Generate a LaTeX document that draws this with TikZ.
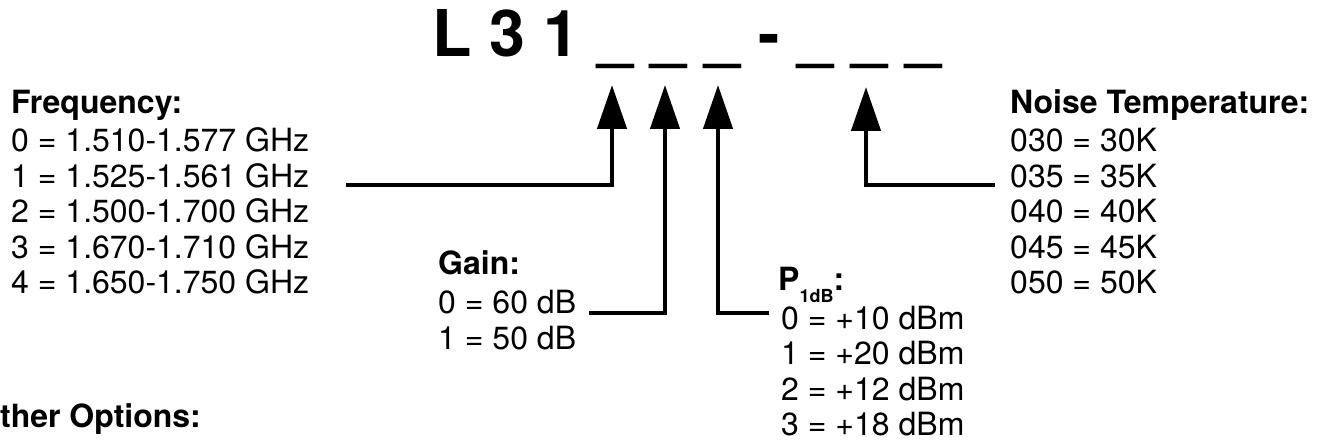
\documentclass[tikz,border=0pt]{standalone}
\usepackage{fontspec}
\setmainfont{TeX Gyre Heros}
\usetikzlibrary{arrows.meta}

\tikzset{
  code/.style={anchor=base west, inner sep=0pt, font=\bfseries\fontsize{64.5}{70}\selectfont},
  item/.style={anchor=base west, inner sep=0pt, font=\fontsize{32}{36}\selectfont},
  head/.style={item, font=\bfseries\fontsize{32}{36}\selectfont},
  pointer/.style={line width=4.5pt, -{Triangle[width=29pt,length=44pt]}}
}

\begin{document}
\begin{tikzpicture}[x=1pt,y=-1pt]
  \useasboundingbox (0,0) rectangle (1322,443);
  % part number and the digits the pointers aim at
  \node[code] (part) at (432,57) {L 3 1 \_ \_ \_ - \_ \_ \_};
  \coordinate (d1) at (612,85);
  \coordinate (d2) at (665,85);
  \coordinate (d3) at (718,85);
  \coordinate (d6) at (866,87);
  % frequency
  \node[head] (freq) at (11,114) {Frequency:};
  \node[item] (f0) at (11,152) {0 = 1.510-1.577 GHz};
  \node[item] (f1) at (11,187.5) {1 = 1.525-1.561 GHz};
  \node[item] (f2) at (11,223) {2 = 1.500-1.700 GHz};
  \node[item] (f3) at (11,258.5) {3 = 1.670-1.710 GHz};
  \node[item] (f4) at (11,294) {4 = 1.650-1.750 GHz};
  % gain
  \node[head] (gain) at (438,275) {Gain:};
  \node[item] (g0) at (438,314) {0 = 60 dB};
  \node[item] (g1) at (438,349.5) {1 = 50 dB};
  % compression point
  \node[head] (pdb) at (778,291) {P\raisebox{-0.36em}{\fontsize{18}{18}\selectfont 1dB}:};
  \node[item] (p0) at (781,330) {0 = +10 dBm};
  \node[item] (p1) at (781,365) {1 = +20 dBm};
  \node[item] (p2) at (781,400) {2 = +12 dBm};
  \node[item] (p3) at (781,435) {3 = +18 dBm};
  % noise temperature
  \node[head] (noise) at (1010,114) {Noise Temperature:};
  \node[item] (n0) at (1010,152) {030 = 30K};
  \node[item] (n1) at (1010,187.5) {035 = 35K};
  \node[item] (n2) at (1010,223) {040 = 40K};
  \node[item] (n3) at (1010,258.5) {045 = 45K};
  \node[item] (n4) at (1010,294) {050 = 50K};
  % other options
  \node[head] (other) at (-25,427) {Other Options:};
  % pointers
  \draw[pointer] ([xshift=37pt]f1.mid east) -| (d1);
  \draw[pointer] ([xshift=13pt,yshift=1pt]g0.base east) -| (d2);
  \draw[pointer] ([xshift=-12pt,yshift=17pt]p0.base west) -| (d3);
  \draw[pointer] ([xshift=-15pt]n1.mid west) -| (d6);
\end{tikzpicture}
\end{document}
